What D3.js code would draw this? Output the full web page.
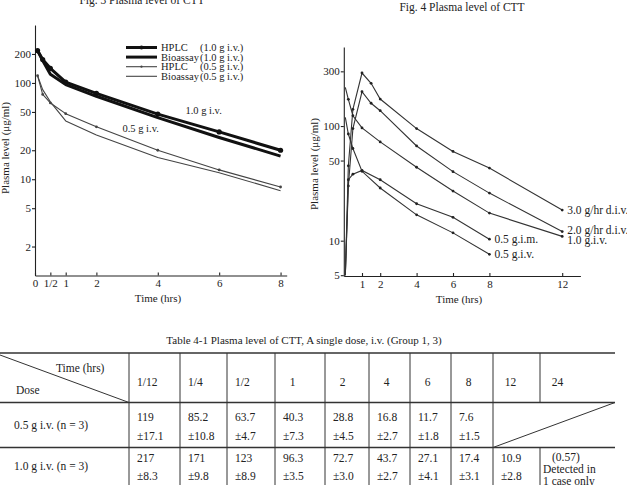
<!DOCTYPE html>
<html>
<head>
<meta charset="utf-8">
<script src="https://cdn.jsdelivr.net/npm/d3@7"></script>
<style>
body { margin: 0; background: #fff; }
svg { display: block; }
text { font-family: "Liberation Serif", "DejaVu Serif", serif; fill: #222; }
</style>
</head>
<body>
<div id="page"></div>
<script>
// Fig. 3 -- plasma level (ug/ml) against time (hrs)
const fig3_times = [1/12, 1/4, 1/2, 1, 2, 4, 6, 8]
const hplc_10 = [217, 175, 142, 102, 78, 47.5, 31, 20]
const bio_10 = [217, 171, 123, 96.3, 72.7, 43.7, 27.1, 17.4]
const hplc_05 = [119, 76, 62, 48, 35, 20, 12.5, 8.3]
const bio_05 = [119, 85.2, 63.7, 40.3, 28.8, 16.8, 11.7, 7.6]
const fig3_yticks = [2, 5, 10, 20, 50, 100, 200]
const fig3_xticks = [0, 0.5, 1, 2, 4, 6, 8]
const fig3_xlabels = ["0", "1/2", "1", "2", "4", "6", "8"]
const fig3_legend = ["HPLC", "Bioassay", "HPLC", "Bioassay"]
const fig3_legend_dose = ["(1.0 g i.v.)", "(1.0 g i.v.)", "(0.5 g i.v.)", "(0.5 g i.v.)"]

// Fig. 4
const div_times = [1/12, 1/4, 1/2, 1, 1.5, 2, 4, 6, 8, 12]
const div_30 = [5, 45, 140, 290, 236, 172, 95, 60, 43, 18.5]
const div_20 = [5, 30, 95, 199, 158, 136, 67, 40, 26, 12]
const iv_times = [1/12, 1/4, 1/2, 1, 2, 4, 6, 8, 12]
const iv_10 = [217, 171, 123, 96.3, 72.7, 43.7, 27.1, 17.4, 10.9]
const im_times = [1/12, 1/4, 1/2, 1, 2, 4, 6, 8]
const im_05 = [5, 34, 38, 41, 34, 21, 16, 10.3]
const iv05_times = [1/12, 1/4, 1/2, 1, 2, 4, 6, 8]
const iv_05 = [119, 85.2, 63.7, 40.3, 28.8, 16.8, 11.7, 7.6]
const fig4_names = ["3.0 g/hr d.i.v.", "2.0 g/hr d.i.v.", "1.0 g.i.v.", "0.5 g.i.m.", "0.5 g.i.v."]
const fig4_yticks = [5, 10, 50, 100, 300]
const fig4_xticks = [1, 2, 4, 6, 8, 12]

// Table 4-1
const table_times = ["1/12", "1/4", "1/2", "1", "2", "4", "6", "8", "12", "24"]
const table_doses = ["0.5 g i.v. (n = 3)", "1.0 g i.v. (n = 3)"]
const mean_05 = [119, 85.2, 63.7, 40.3, 28.8, 16.8, 11.7, 7.6]
const sd_05 = [17.1, 10.8, 4.7, 7.3, 4.5, 2.7, 1.8, 1.5]
const mean_10 = [217, 171, 123, 96.3, 72.7, 43.7, 27.1, 17.4, 10.9]
const sd_10 = [8.3, 9.8, 8.9, 3.5, 3.0, 2.7, 4.1, 3.1, 2.8]
const note_24 = ["(0.57)", "Detected in", "1 case only"]

const ink = "#222"

const svg = d3.select("#page").append("svg")
  .attr("width", 627)
  .attr("height", 485)

function styleAxis(g) {
  g.attr("font-family", "Liberation Serif, serif").attr("font-size", 11)
  g.selectAll("path, line").attr("stroke", ink).attr("stroke-width", 1.1)
  g.selectAll("text").attr("fill", ink)
}

/* ---------- Fig. 3 ---------- */
let x3 = d3.scaleLinear().domain([0, 8.2]).range([35, 286.7])
let y3 = d3.scaleLog().domain([1, 400]).range([275.5, 25])

svg.append("text")
  .attr("x", 142).attr("y", 4)
  .attr("text-anchor", "middle")
  .attr("font-size", 11.5)
  .text("Fig. 3   Plasma level of CTT")

svg.append("g")
  .attr("transform", "translate(35,0)")
  .call(d3.axisLeft(y3).tickValues(fig3_yticks).tickFormat(d3.format("d"))
    .tickSize(3).tickSizeOuter(0).tickPadding(1))
  .call(styleAxis)

svg.append("g")
  .attr("transform", "translate(0," + y3(1) + ")")
  .call(d3.axisBottom(x3).tickValues(fig3_xticks).tickFormat((d, i) => fig3_xlabels[i])
    .tickSizeInner(-3).tickSizeOuter(0).tickPadding(4))
  .call(styleAxis)

svg.append("text")
  .attr("x", 158).attr("y", 302)
  .attr("text-anchor", "middle")
  .attr("font-size", 11)
  .text("Time (hrs)")

svg.append("text")
  .attr("transform", "translate(9,148) rotate(-90)")
  .attr("text-anchor", "middle")
  .attr("font-size", 11)
  .text("Plasma level (\u03bcg/ml)")

const fig3_vals = [hplc_10, bio_10, hplc_05, bio_05]
const fig3_width = [3, 3, 1.1, 1.1]
const fig3_color = ["#111", "#111", "#444", "#444"]
const fig3_dot = [2.6, 0, 1.4, 0]

let line3 = d3.line()
  .x(d => x3(d[0]))
  .y(d => y3(d[1]))

fig3_vals.forEach(function(vals, i) {
  let pts = d3.zip(fig3_times, vals)
  svg.append("path")
    .datum(pts)
    .attr("fill", "none")
    .attr("stroke", fig3_color[i])
    .attr("stroke-width", fig3_width[i])
    .attr("stroke-linejoin", "round")
    .attr("d", line3)
  if (fig3_dot[i] > 0) {
    svg.selectAll(".dot3_" + i)
      .data(pts)
      .enter().append("circle")
      .attr("class", "dot3_" + i)
      .attr("cx", d => x3(d[0]))
      .attr("cy", d => y3(d[1]))
      .attr("r", fig3_dot[i])
      .attr("fill", fig3_color[i])
  }
})

// legend
fig3_legend.forEach(function(name, i) {
  let ly = 47.5 + i * 9.6
  svg.append("line")
    .attr("x1", 126).attr("x2", 157)
    .attr("y1", ly).attr("y2", ly)
    .attr("stroke", fig3_color[i])
    .attr("stroke-width", fig3_width[i])
  if (fig3_dot[i] > 0) {
    svg.append("circle").attr("cx", 141.5).attr("cy", ly)
      .attr("r", fig3_dot[i] * 0.8).attr("fill", fig3_color[i])
  }
  svg.append("text").attr("x", 161).attr("y", ly + 3.6)
    .attr("font-size", 10.5).text(name)
  svg.append("text").attr("x", 200).attr("y", ly + 3.6)
    .attr("font-size", 10.5).text(fig3_legend_dose[i])
})

svg.append("text")
  .attr("x", x3(4.9)).attr("y", y3(48))
  .attr("font-size", 10.5)
  .text("1.0 g i.v.")
svg.append("text")
  .attr("x", x3(2.85)).attr("y", y3(31))
  .attr("font-size", 10.5)
  .text("0.5 g i.v.")

/* ---------- Fig. 4 ---------- */
let x4 = d3.scaleLinear().domain([0, 13]).range([343.8, 580.4])
let y4 = d3.scaleLog().domain([4.92, 489]).range([276, 47])

svg.append("text")
  .attr("x", 462).attr("y", 10.5)
  .attr("text-anchor", "middle")
  .attr("font-size", 11.5)
  .text("Fig. 4   Plasma level of CTT")

svg.append("g")
  .attr("transform", "translate(343.8,0)")
  .call(d3.axisLeft(y4).tickValues(fig4_yticks).tickFormat(d3.format("d"))
    .tickSize(3).tickSizeOuter(0).tickPadding(1))
  .call(styleAxis)

svg.append("g")
  .attr("transform", "translate(0,276)")
  .call(d3.axisBottom(x4).tickValues(fig4_xticks).tickFormat(d3.format("d"))
    .tickSizeInner(-3).tickSizeOuter(0).tickPadding(4))
  .call(styleAxis)

svg.append("text")
  .attr("x", 459).attr("y", 303)
  .attr("text-anchor", "middle")
  .attr("font-size", 11)
  .text("Time (hrs)")

svg.append("text")
  .attr("transform", "translate(318,164) rotate(-90)")
  .attr("text-anchor", "middle")
  .attr("font-size", 11)
  .text("Plasma level (\u03bcg/ml)")

const fig4_series = [
  d3.zip(div_times, div_30),
  d3.zip(div_times, div_20),
  d3.zip(iv_times, iv_10),
  d3.zip(im_times, im_05),
  d3.zip(iv05_times, iv_05)
]
const fig4_label_dy = [0, -1.5, 4, 0, 0]
const fig4_label_dx = [5, 5, 5, 5, 5]

let line4 = d3.line()
  .x(d => x4(d[0]))
  .y(d => y4(d[1]))

fig4_series.forEach(function(pts, i) {
  svg.append("path")
    .datum(pts)
    .attr("fill", "none")
    .attr("stroke", "#333")
    .attr("stroke-width", 1.1)
    .attr("d", line4)
  svg.selectAll(".dot4_" + i)
    .data(pts.slice(1))
    .enter().append("circle")
    .attr("class", "dot4_" + i)
    .attr("cx", d => x4(d[0]))
    .attr("cy", d => y4(d[1]))
    .attr("r", 1.4)
    .attr("fill", "#222")
  let last = pts[pts.length - 1]
  svg.append("text")
    .attr("x", x4(last[0]) + fig4_label_dx[i])
    .attr("y", y4(last[1]) + fig4_label_dy[i] + 4)
    .attr("font-size", 11.5)
    .text(fig4_names[i])
})

/* ---------- Table 4-1 ---------- */
const cols = [0, 129, 180, 227, 275, 325, 369, 410, 451, 493, 540, 615]
const rows = [353, 402.5, 447.5, 485]
const text_y = [[18, 37, 26.5], [14, 32, 22]]   // mean, sd, dose label offsets per row

svg.append("text")
  .attr("x", 304).attr("y", 344)
  .attr("text-anchor", "middle")
  .attr("font-size", 11)
  .text("Table 4-1   Plasma level of CTT, A single dose, i.v. (Group 1, 3)")

let grid = svg.append("g").attr("stroke", "#333")
rows.slice(0, 3).forEach(function(ry) {
  grid.append("line").attr("x1", 0).attr("x2", cols[11])
    .attr("y1", ry).attr("y2", ry).attr("stroke-width", 1.5)
})
cols.slice(1, 11).forEach(function(cx, i) {
  let merged = (i == 9)   // 12/24 cells of the 0.5 g row are crossed out
  grid.append("line").attr("x1", cx).attr("x2", cx)
    .attr("y1", rows[0]).attr("y2", merged ? rows[1] : rows[3])
    .attr("stroke-width", 1)
  if (merged) {
    grid.append("line").attr("x1", cx).attr("x2", cx)
      .attr("y1", rows[2]).attr("y2", rows[3]).attr("stroke-width", 1)
  }
})
grid.append("line").attr("x1", 0).attr("y1", rows[0] + 2)
  .attr("x2", cols[1]).attr("y2", rows[1]).attr("stroke-width", 1)
grid.append("line").attr("x1", cols[9]).attr("y1", rows[2])
  .attr("x2", cols[11]).attr("y2", rows[1]).attr("stroke-width", 1)

svg.append("text").attr("x", 56).attr("y", 372).attr("font-size", 11.5).text("Time (hrs)")
svg.append("text").attr("x", 16).attr("y", 394).attr("font-size", 11.5).text("Dose")

table_times.forEach(function(t, i) {
  let left = cols[i + 1], right = Math.min(cols[i + 2], left + 35)
  let frac = t.indexOf("/") >= 0
  svg.append("text")
    .attr("x", frac ? left + 8 : (left + right) / 2)
    .attr("y", 385.5)
    .attr("text-anchor", frac ? "start" : "middle")
    .attr("font-size", 11.5)
    .text(t)
})

const fmt1 = d3.format(".1f")
const table_rows = [[mean_05, sd_05], [mean_10, sd_10]]
table_rows.forEach(function(r, j) {
  let top = rows[j + 1]
  svg.append("text").attr("x", 14).attr("y", top + text_y[j][2])
    .attr("font-size", 11.5).text(table_doses[j])
  r[0].forEach(function(m, i) {
    svg.append("text").attr("x", cols[i + 1] + 8).attr("y", top + text_y[j][0])
      .attr("font-size", 11.5).text(String(m))
    svg.append("text").attr("x", cols[i + 1] + 8).attr("y", top + text_y[j][1])
      .attr("font-size", 11.5).text("\u00b1" + fmt1(r[1][i]))
  })
})

note_24.forEach(function(s, i) {
  svg.append("text")
    .attr("x", i == 0 ? cols[10] + 12 : cols[10] + 3)
    .attr("y", rows[2] + 13 + i * 12)
    .attr("font-size", 11.5)
    .text(s)
})
</script>
</body>
</html>
